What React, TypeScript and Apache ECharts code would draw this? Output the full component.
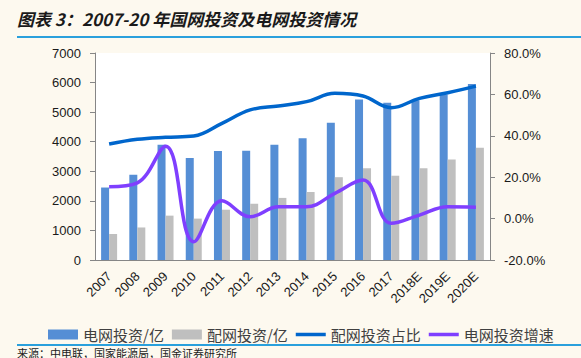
import React, { useEffect, useRef } from "react";
import * as echarts from "echarts";

const categories = ["2007", "2008", "2009", "2010", "2011", "2012", "2013", "2014", "2015", "2016", "2017", "2018E", "2019E", "2020E"];
const gridInvest = [2451, 2885, 3898, 3448, 3687, 3693, 3894, 4118, 4640, 5431, 5315, 5400, 5600, 5950];
const distInvest = [880, 1100, 1500, 1400, 1700, 1900, 2100, 2300, 2800, 3100, 2850, 3100, 3400, 3800];
const distShare = [36.0, 38.3, 39.3, 39.9, 46.0, 52.5, 54.4, 56.5, 60.5, 59.2, 53.6, 58.1, 60.8, 64.0];
const gridGrowth = [15.4, 17.3, 35.0, -11.2, 8.6, 0.9, 5.7, 5.7, 12.2, 18.6, -2.3, 1.7, 5.7, 5.5];

const seriesNames = ["电网投资/亿", "配网投资/亿", "配网投资占比", "电网投资增速"];
const titleText = "图表 3：2007-20 年国网投资及电网投资情况";
const sourceText = "来源：中电联，国家能源局，国金证券研究所";

export default function App() {
  const ref = useRef<HTMLDivElement>(null);
  useEffect(() => {
    document.body.style.margin = "0";
    const chart = echarts.init(ref.current!, null, { renderer: "svg" });
    const font = "'Noto Sans CJK SC', 'Noto Sans', sans-serif";
    const latin = "'Liberation Sans', Arial, sans-serif";
    const lineIcon = "path://M0,0 L30,0 L30,3.5 L0,3.5 Z";
    chart.setOption({
      animation: false,
      backgroundColor: "#fdf9ef",
      textStyle: { fontFamily: font },
      grid: {
        left: 95, right: 91, top: 53, bottom: 98,
        show: true, backgroundColor: "#ffffff", borderWidth: 0,
      },
      legend: {
        data: [
          { name: seriesNames[0], icon: "rect" },
          { name: seriesNames[1], icon: "rect" },
          { name: seriesNames[2], icon: lineIcon },
          { name: seriesNames[3], icon: lineIcon },
        ],
        left: 43, top: 322,
        itemWidth: 30, itemHeight: 10, itemGap: 8,
        textStyle: { fontSize: 15, color: "#404040", fontFamily: font },
      },
      xAxis: {
        type: "category",
        data: categories,
        axisLine: { lineStyle: { color: "#868686" } },
        axisTick: { lineStyle: { color: "#868686" }, length: 4 },
        axisLabel: { rotate: 45, fontSize: 13, color: "#1a1a1a", margin: 14, fontFamily: latin },
      },
      yAxis: [
        {
          type: "value", min: 0, max: 7000, interval: 1000,
          axisLine: { show: true, lineStyle: { color: "#868686" } },
          axisTick: { show: true, lineStyle: { color: "#868686" }, length: 5 },
          splitLine: { show: false },
          axisLabel: { fontSize: 13, color: "#1a1a1a", margin: 14, fontFamily: latin, formatter: (v: number) => String(v) },
        },
        {
          type: "value", min: -20, max: 80, interval: 20,
          position: "right",
          axisLine: { show: true, lineStyle: { color: "#868686" } },
          axisTick: { show: true, lineStyle: { color: "#868686" }, length: 5 },
          splitLine: { show: false },
          axisLabel: {
            fontSize: 13, color: "#1a1a1a", margin: 14,
            fontFamily: latin,
            formatter: (v: number) => v.toFixed(1) + "%",
          },
        },
      ],
      series: [
        {
          name: seriesNames[0], type: "bar", data: gridInvest,
          barWidth: 8, barGap: "0%",
          itemStyle: { color: "#558ed5" },
        },
        {
          name: seriesNames[1], type: "bar", data: distInvest,
          barWidth: 8,
          itemStyle: { color: "#bfbfbf" },
        },
        {
          name: seriesNames[2], type: "line", yAxisIndex: 1, data: distShare,
          smooth: 0.4, symbol: "none",
          lineStyle: { color: "#0066cc", width: 3.5 },
          itemStyle: { color: "#0066cc" },
        },
        {
          name: seriesNames[3], type: "line", yAxisIndex: 1, data: gridGrowth,
          smooth: 0.4, symbol: "none",
          lineStyle: { color: "#7f3fff", width: 3.5 },
          itemStyle: { color: "#7f3fff" },
        },
      ],
      graphic: [
        {
          type: "text", left: 17, top: 10,
          style: {
            text: titleText, fontSize: 17, fontWeight: "bold", fontStyle: "italic",
            fill: "#1a1a1a", fontFamily: font,
          },
        },
        { type: "rect", left: 17, top: 36, shape: { width: 564, height: 2 }, style: { fill: "#2aa0dc" } },
        { type: "rect", left: 17, top: 344, shape: { width: 564, height: 2 }, style: { fill: "#2aa0dc" } },
        {
          type: "text", left: 17, top: 347,
          style: { text: sourceText, fontSize: 11, fill: "#222", fontFamily: font },
        },
      ],
    });
    return () => chart.dispose();
  }, []);
  return <div ref={ref} style={{ position: "absolute", left: 0, top: 0, width: 581, height: 358 }} />;
}
